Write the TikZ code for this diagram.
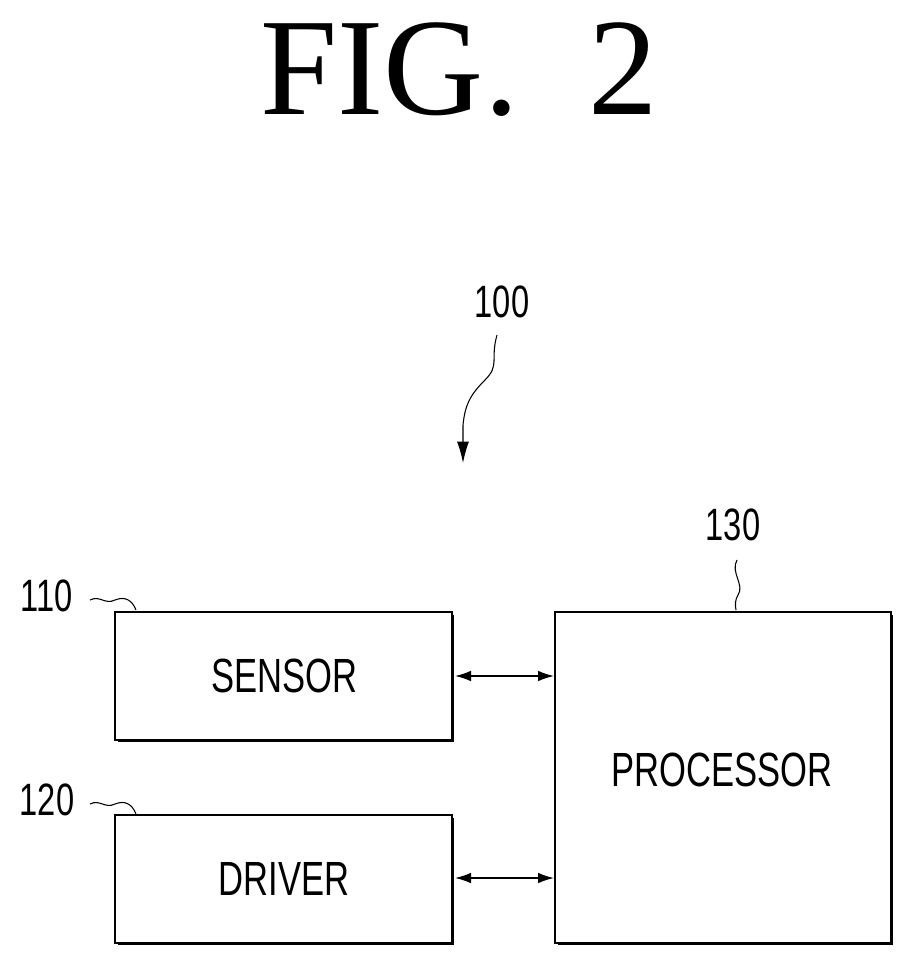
\documentclass[tikz,border=0pt]{standalone}
\usepackage{fontspec}
\setmainfont{Liberation Serif}
\newfontfamily\lab{Liberation Sans}[FakeStretch=0.72]
\usetikzlibrary{arrows.meta}
\begin{document}
\begin{tikzpicture}[x=0.75pt,y=-0.75pt,
  box/.style={draw,line width=1.2pt},
  shad/.style={line width=2.2pt},
  txt/.style={font=\fontsize{36}{40}\lab\selectfont},
  num/.style={font=\fontsize{34}{38}\lab\selectfont},
  conn/.style={line width=1.2pt,{Latex[length=12pt,width=8pt]}-{Latex[length=12pt,width=8pt]}},
  sq/.style={line width=0.8pt}]
\useasboundingbox (0,0) rectangle (917,966);
\node (title) at (459,70) {\fontsize{104}{110}\selectfont FIG.\ \ 2};
% boxes
\draw[box] (115,612) rectangle (452,740);
\draw[shad] (118,741) -- (453,741) -- (453,615);
\node[txt] (sensor) at (284,676) {SENSOR};
\draw[box] (115,815) rectangle (452,943);
\draw[shad] (118,944) -- (453,944) -- (453,818);
\node[txt] (driver) at (284,879) {DRIVER};
\draw[box] (555,612) rectangle (891,943);
\draw[shad] (558,944) -- (892,944) -- (892,615);
\node[txt] (proc) at (722,770) {PROCESSOR};
\coordinate (s1) at (455,676); \coordinate (p1) at (554,676);
\coordinate (s2) at (455,878); \coordinate (p2) at (554,878);
\draw[conn] (s1) -- (p1);
\draw[conn] (s2) -- (p2);
% labels
\node[num] (l110) at (47,596) {110};
\draw[sq] (90,600) .. controls (100,595) and (105,605) .. (115,600) .. controls (125,596) and (132,600) .. (136,610);
\node[num] (l120) at (47,800) {120};
\draw[sq] (90,804) .. controls (100,799) and (105,809) .. (115,804) .. controls (125,800) and (132,804) .. (136,814);
\node[num] (l130) at (733,525) {130};
\draw[sq] (737,560) .. controls (730,572) and (745,585) .. (738,595) .. controls (735,600) and (735,605) .. (736,610);
\node[num] (l100) at (502,302) {100};
\coordinate (a100) at (463,463);
\draw[sq,-{Latex[length=16pt,width=9pt]}] (497,335) .. controls (490,360) and (500,365) .. (485,380) .. controls (470,395) and (465,405) .. (463,425) -- (a100);
\end{tikzpicture}
\end{document}
